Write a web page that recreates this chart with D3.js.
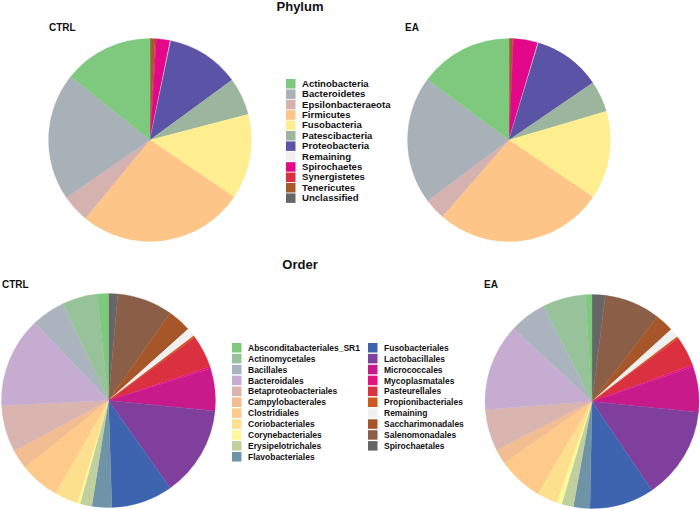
<!DOCTYPE html>
<html>
<head>
<meta charset="utf-8">
<script src="https://cdn.jsdelivr.net/npm/d3@7"></script>
<style>
  body { margin: 0; background: #fff; }
  text { font-family: "Liberation Sans", Arial, Helvetica, sans-serif; font-weight: bold; fill: #111; }
</style>
</head>
<body>
<svg id="chart" width="700" height="509"></svg>
<script>
// Phylum level (legend order)
const phylumNames = ['Actinobacteria', 'Bacteroidetes', 'Epsilonbacteraeota', 'Firmicutes', 'Fusobacteria',
  'Patescibacteria', 'Proteobacteria', 'Remaining', 'Spirochaetes', 'Synergistetes', 'Tenericutes', 'Unclassified'];
const phylumColors = ['#7fc97f', '#a7b1b7', '#d5b1b0', '#fdc587', '#ffee90', '#9bb59e', '#5a53a6',
  '#f0f0f0', '#e3088a', '#d8313f', '#a65a2b', '#666666'];
const phylumCtrl = [14.3, 20.4, 4.4, 26.6, 13.6, 6.0, 11.7, 0.1, 2.2, 0.2, 0.7, 0.1];
const phylumEA = [14.9, 20.4, 3.4, 27.0, 14.1, 5.0, 10.8, 0.1, 3.9, 0.1, 0.5, 0.1];

// Order level (legend order)
const orderNames = ['Absconditabacteriales_SR1', 'Actinomycetales', 'Bacillales', 'Bacteroidales',
  'Betaproteobacteriales', 'Campylobacterales', 'Clostridiales', 'Coriobacteriales', 'Corynebacteriales',
  'Erysipelotrichales', 'Flavobacteriales', 'Fusobacteriales', 'Lactobacillales', 'Micrococcales',
  'Mycoplasmatales', 'Pasteurellales', 'Propionibacteriales', 'Remaining', 'Saccharimonadales',
  'Salenomonadales', 'Spirochaetales'];
const orderColors = ['#7fc97f', '#97c29a', '#abb3bf', '#c5acd0', '#dab4ae', '#f2bd91', '#fdca8a',
  '#fde08e', '#fdf99a', '#bfcf9e', '#6f94a8', '#3e64b0', '#813f9d', '#c81a8b', '#e6137d', '#da303f',
  '#cc5a1e', '#f0f0f0', '#a65628', '#8a5e47', '#666666'];
const orderCtrl = [1.7, 5.3, 5.1, 13.7, 7.1, 2.9, 6.0, 3.6, 0.4, 1.8, 3.0, 9.3, 13.7, 6.4, 0.3, 4.9, 0.3, 1.3, 3.6, 8.4, 1.4];
const orderEA = [1.0, 6.5, 5.6, 13.2, 6.3, 2.3, 6.8, 3.1, 0.8, 1.8, 2.5, 9.8, 14.0, 6.9, 0.3, 4.5, 0.3, 1.4, 2.8, 8.5, 2.0];

const svg = d3.select('#chart');

// slices run clockwise from 12 o'clock in reverse legend order
const pie = d3.pie().sort(null).value(d => d.value);

const drawPie = (cx, cy, r, names, colors, values, label, lx, ly) => {
  const color = d3.scaleOrdinal().domain(names).range(colors);
  const data = names.map((n, i) => ({ name: n, value: values[i] })).reverse();
  const arc = d3.arc().innerRadius(0).outerRadius(r);

  const g = svg.append('g').attr('transform', `translate(${cx},${cy})`);
  g.selectAll('path')
    .data(pie(data))
    .join('path')
    .attr('d', arc)
    .attr('fill', d => color(d.data.name))
    .attr('stroke', d => color(d.data.name))
    .attr('stroke-width', 0.3);

  svg.append('text')
    .attr('x', lx)
    .attr('y', ly)
    .attr('font-size', 10)
    .text(label);
};

const drawLegend = (x, y, names, colors, step, perCol, colGap, fontSize) => {
  const g = svg.append('g').attr('transform', `translate(${x},${y})`);
  const items = g.selectAll('g')
    .data(names.map((n, i) => ({ name: n, color: colors[i], i })))
    .join('g')
    .attr('transform', d => `translate(${Math.floor(d.i / perCol) * colGap},${(d.i % perCol) * step})`);

  items.append('rect')
    .attr('x', 0)
    .attr('y', -4.5)
    .attr('width', 9.5)
    .attr('height', 9.5)
    .attr('fill', d => d.color);

  items.append('text')
    .attr('x', 16)
    .attr('y', 3.3)
    .attr('font-size', fontSize)
    .text(d => d.name);
};

// titles
svg.append('text').attr('x', 300).attr('y', 11).attr('text-anchor', 'middle')
  .attr('font-size', 13).text('Phylum');
svg.append('text').attr('x', 300).attr('y', 269).attr('text-anchor', 'middle')
  .attr('font-size', 13).text('Order');

// Phylum
drawPie(150, 140, 101.5, phylumNames, phylumColors, phylumCtrl, 'CTRL', 49, 31);
drawPie(509, 140, 101.5, phylumNames, phylumColors, phylumEA, 'EA', 405, 31);
drawLegend(286, 83.5, phylumNames, phylumColors, 10.4, 12, 0, 9.6);

// Order
drawPie(108.5, 400.5, 107, orderNames, orderColors, orderCtrl, 'CTRL', 2, 288);
drawPie(592, 401.5, 107, orderNames, orderColors, orderEA, 'EA', 484, 288);
drawLegend(232, 347.5, orderNames, orderColors, 10.9, 11, 136, 8.5);
</script>
</body>
</html>
